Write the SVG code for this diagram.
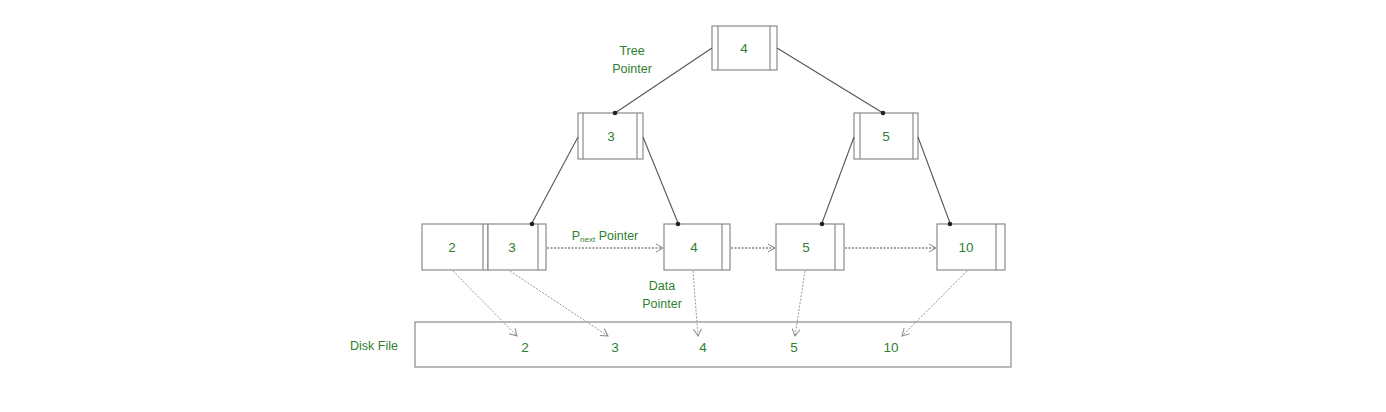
<svg xmlns="http://www.w3.org/2000/svg" width="1386" height="412" viewBox="0 0 1386 412">
<style>
.box{fill:#fff;stroke:#8a8a8a;stroke-width:1.2}
.div{stroke:#8a8a8a;stroke-width:1.2}
.t{font-family:"Liberation Sans",Arial,sans-serif;font-size:13.5px;fill:#2f7f2f;text-anchor:middle}
.lbl{font-family:"Liberation Sans",Arial,sans-serif;font-size:12.5px;fill:#2f7f2f;text-anchor:middle}
.tree{stroke:#555;stroke-width:1.1;fill:none}
.dot{fill:#222}
.next{stroke:#888;stroke-width:1.3;stroke-dasharray:2 1.5;fill:none}
.data{stroke:#999;stroke-width:1;stroke-dasharray:2 1.5;fill:none}
</style>
<defs>
<marker id="open" markerWidth="10" markerHeight="10" refX="8" refY="5" orient="auto" markerUnits="userSpaceOnUse">
<path d="M1,1 L8,5 L1,9" fill="none" stroke="#888" stroke-width="1"/>
</marker>
</defs>
<rect width="1386" height="412" fill="#fff"/>
<g id="root4">
<rect class="box" x="712" y="26" width="65" height="44"/>
<line class="div" x1="718" y1="26" x2="718" y2="70"/>
<line class="div" x1="770" y1="26" x2="770" y2="70"/>
<text class="t" x="744" y="53">4</text>
</g>
<g id="node3">
<rect class="box" x="578" y="113" width="65" height="46"/>
<line class="div" x1="583" y1="113" x2="583" y2="159"/>
<line class="div" x1="637" y1="113" x2="637" y2="159"/>
<text class="t" x="611" y="141">3</text>
</g>
<g id="node5">
<rect class="box" x="854" y="113" width="64" height="46"/>
<line class="div" x1="860" y1="113" x2="860" y2="159"/>
<line class="div" x1="913" y1="113" x2="913" y2="159"/>
<text class="t" x="886" y="141">5</text>
</g>
<g id="leaf2">
<rect class="box" x="422" y="224" width="66" height="46"/>
<line class="div" x1="483" y1="224" x2="483" y2="270"/>
<text class="t" x="452" y="252">2</text>
</g>
<g id="leaf3">
<rect class="box" x="488" y="224" width="58" height="46"/>
<line class="div" x1="538" y1="224" x2="538" y2="270"/>
<text class="t" x="512" y="252">3</text>
</g>
<g id="leaf4">
<rect class="box" x="664" y="224" width="66" height="46"/>
<line class="div" x1="722" y1="224" x2="722" y2="270"/>
<text class="t" x="694" y="252">4</text>
</g>
<g id="leaf5">
<rect class="box" x="776" y="224" width="68" height="46"/>
<line class="div" x1="835" y1="224" x2="835" y2="270"/>
<text class="t" x="806" y="252">5</text>
</g>
<g id="leaf10">
<rect class="box" x="937" y="224" width="68" height="46"/>
<line class="div" x1="996" y1="224" x2="996" y2="270"/>
<text class="t" x="966" y="252">10</text>
</g>
<g id="diskfile">
<rect class="box" x="415" y="322" width="596" height="45"/>
<text class="t" x="525" y="352">2</text>
<text class="t" x="615" y="352">3</text>
<text class="t" x="703" y="352">4</text>
<text class="t" x="794" y="352">5</text>
<text class="t" x="891" y="352">10</text>
</g>
<g id="labels">
<text class="lbl" x="632" y="55">Tree</text>
<text class="lbl" x="632" y="73">Pointer</text>
<text class="lbl" x="374" y="350">Disk File</text>
<text class="lbl" x="662" y="290">Data</text>
<text class="lbl" x="662" y="308">Pointer</text>
<text class="lbl" x="605" y="240" text-anchor="middle">P<tspan font-size="8" dy="2">next</tspan><tspan dy="-2"> Pointer</tspan></text>
</g>
<g id="connectors">
<line class="tree" x1="712" y1="48" x2="615" y2="113"/>
<line class="tree" x1="777" y1="48" x2="883" y2="113"/>
<line class="tree" x1="578" y1="137" x2="532" y2="223"/>
<line class="tree" x1="643" y1="137" x2="678" y2="223"/>
<line class="tree" x1="854" y1="137" x2="822" y2="223"/>
<line class="tree" x1="918" y1="137" x2="950" y2="223"/>
<circle class="dot" cx="615" cy="113" r="2.3"/>
<circle class="dot" cx="883" cy="113" r="2.3"/>
<circle class="dot" cx="532" cy="224" r="2.3"/>
<circle class="dot" cx="678" cy="224" r="2.3"/>
<circle class="dot" cx="822" cy="224" r="2.3"/>
<circle class="dot" cx="950" cy="224" r="2.3"/>
<line class="next" x1="547" y1="248" x2="663" y2="248" marker-end="url(#open)"/>
<line class="next" x1="731" y1="248" x2="775" y2="248" marker-end="url(#open)"/>
<line class="next" x1="845" y1="248" x2="936" y2="248" marker-end="url(#open)"/>
<line class="data" x1="453" y1="271" x2="517" y2="336" marker-end="url(#open)"/>
<line class="data" x1="510" y1="271" x2="608" y2="336" marker-end="url(#open)"/>
<line class="data" x1="693" y1="271" x2="698" y2="336" marker-end="url(#open)"/>
<line class="data" x1="805" y1="271" x2="795" y2="336" marker-end="url(#open)"/>
<line class="data" x1="967" y1="271" x2="902" y2="336" marker-end="url(#open)"/>
</g>
</svg>
